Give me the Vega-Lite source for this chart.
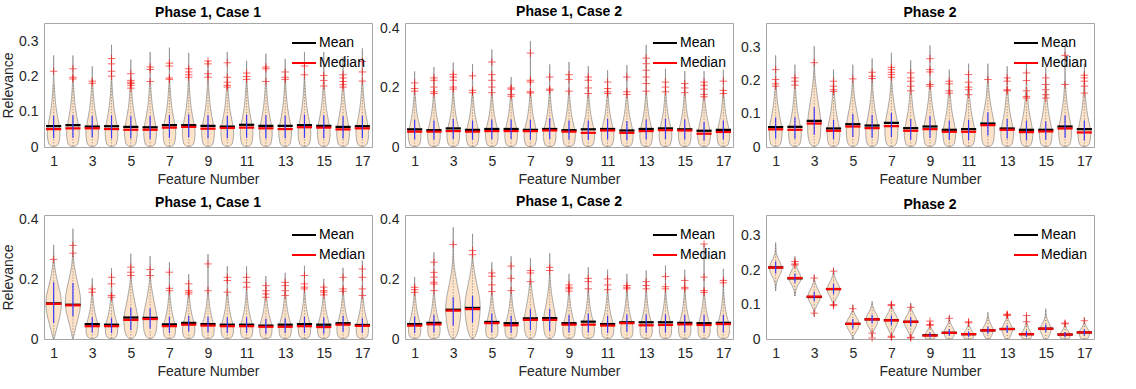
{
"$schema":"https://vega.github.io/schema/vega-lite/v6.json",
"background":"white",
"padding":{"left":1,"top":4,"right":0,"bottom":0},
"config":{
 "font":"Liberation Sans",
 "view":{"stroke":"#a6a6a6","strokeWidth":1},
 "axis":{"labelFontSize":14,"titleFontSize":14,"labelColor":"#262626","titleColor":"#262626","titleFontWeight":"normal","grid":false,"domain":false,"ticks":false,"labelPadding":7},
 "axisX":{"titlePadding":4},
 "axisY":{"labelPadding":6,"titlePadding":3},
 "title":{"fontSize":14,"fontWeight":"bold","color":"#000000","offset":3},
 "legend":{"orient":"top-right","title":null,"symbolType":"stroke","symbolSize":576,"symbolStrokeWidth":2,"labelFontSize":14,"labelColor":"#000000","offset":7,"padding":0,"rowPadding":-4,"labelOffset":2}
},
"datasets":{
"vio":[
{"p":1,"f":1,"y":[0.002,0.008,0.02,0.035,0.05,0.07,0.09,0.11,0.13,0.15,0.175,0.2,0.26],"w":[0.12,0.25,0.3,0.33,0.32,0.26,0.19,0.13,0.09,0.06,0.03,0.01,0]},
{"p":1,"f":2,"y":[0.002,0.008,0.02,0.035,0.05,0.07,0.09,0.11,0.13,0.15,0.175,0.2,0.26],"w":[0.12,0.25,0.3,0.33,0.32,0.26,0.19,0.13,0.09,0.06,0.03,0.01,0]},
{"p":1,"f":3,"y":[0.002,0.008,0.02,0.035,0.05,0.07,0.09,0.11,0.13,0.15,0.175,0.2,0.229],"w":[0.12,0.25,0.3,0.33,0.32,0.26,0.19,0.13,0.09,0.06,0.03,0.01,0]},
{"p":1,"f":4,"y":[0.002,0.008,0.02,0.035,0.05,0.07,0.09,0.11,0.13,0.15,0.175,0.2,0.29],"w":[0.12,0.25,0.3,0.33,0.32,0.26,0.19,0.13,0.09,0.06,0.03,0.01,0]},
{"p":1,"f":5,"y":[0.002,0.008,0.02,0.035,0.05,0.07,0.09,0.11,0.13,0.15,0.175,0.2,0.248],"w":[0.12,0.25,0.3,0.33,0.32,0.26,0.19,0.13,0.09,0.06,0.03,0.01,0]},
{"p":1,"f":6,"y":[0.002,0.008,0.02,0.035,0.05,0.07,0.09,0.11,0.13,0.15,0.175,0.2,0.27],"w":[0.12,0.25,0.3,0.33,0.32,0.26,0.19,0.13,0.09,0.06,0.03,0.01,0]},
{"p":1,"f":7,"y":[0.002,0.008,0.02,0.035,0.05,0.07,0.09,0.11,0.13,0.15,0.175,0.2,0.282],"w":[0.12,0.25,0.3,0.33,0.32,0.26,0.19,0.13,0.09,0.06,0.03,0.01,0]},
{"p":1,"f":8,"y":[0.002,0.008,0.02,0.035,0.05,0.07,0.09,0.11,0.13,0.15,0.175,0.2,0.267],"w":[0.12,0.25,0.3,0.33,0.32,0.26,0.19,0.13,0.09,0.06,0.03,0.01,0]},
{"p":1,"f":9,"y":[0.002,0.008,0.02,0.035,0.05,0.07,0.09,0.11,0.13,0.15,0.175,0.2,0.245],"w":[0.12,0.25,0.3,0.33,0.32,0.26,0.19,0.13,0.09,0.06,0.03,0.01,0]},
{"p":1,"f":10,"y":[0.002,0.008,0.02,0.035,0.05,0.07,0.09,0.11,0.13,0.15,0.175,0.2,0.27],"w":[0.12,0.25,0.3,0.33,0.32,0.26,0.19,0.13,0.09,0.06,0.03,0.01,0]},
{"p":1,"f":11,"y":[0.002,0.008,0.02,0.035,0.05,0.07,0.09,0.11,0.13,0.15,0.175,0.2,0.245],"w":[0.12,0.25,0.3,0.33,0.32,0.26,0.19,0.13,0.09,0.06,0.03,0.01,0]},
{"p":1,"f":12,"y":[0.002,0.008,0.02,0.035,0.05,0.07,0.09,0.11,0.13,0.15,0.175,0.2,0.265],"w":[0.12,0.25,0.3,0.33,0.32,0.26,0.19,0.13,0.09,0.06,0.03,0.01,0]},
{"p":1,"f":13,"y":[0.002,0.008,0.02,0.035,0.05,0.07,0.09,0.11,0.13,0.15,0.175,0.2,0.25],"w":[0.12,0.25,0.3,0.33,0.32,0.26,0.19,0.13,0.09,0.06,0.03,0.01,0]},
{"p":1,"f":14,"y":[0.002,0.008,0.02,0.035,0.05,0.07,0.09,0.11,0.13,0.15,0.175,0.2,0.27],"w":[0.12,0.25,0.3,0.33,0.32,0.26,0.19,0.13,0.09,0.06,0.03,0.01,0]},
{"p":1,"f":15,"y":[0.002,0.008,0.02,0.035,0.05,0.07,0.09,0.11,0.13,0.15,0.175,0.2,0.27],"w":[0.12,0.25,0.3,0.33,0.32,0.26,0.19,0.13,0.09,0.06,0.03,0.01,0]},
{"p":1,"f":16,"y":[0.002,0.008,0.02,0.035,0.05,0.07,0.09,0.11,0.13,0.15,0.175,0.2,0.255],"w":[0.12,0.25,0.3,0.33,0.32,0.26,0.19,0.13,0.09,0.06,0.03,0.01,0]},
{"p":1,"f":17,"y":[0.002,0.008,0.02,0.035,0.05,0.07,0.09,0.11,0.13,0.15,0.175,0.2,0.28],"w":[0.12,0.25,0.3,0.33,0.32,0.26,0.19,0.13,0.09,0.06,0.03,0.01,0]},
{"p":2,"f":1,"y":[0.002,0.008,0.02,0.035,0.05,0.07,0.09,0.11,0.13,0.15,0.175,0.2,0.256],"w":[0.12,0.25,0.3,0.33,0.32,0.26,0.19,0.13,0.09,0.06,0.03,0.01,0]},
{"p":2,"f":2,"y":[0.002,0.008,0.02,0.035,0.05,0.07,0.09,0.11,0.13,0.15,0.175,0.2,0.271],"w":[0.12,0.25,0.3,0.33,0.32,0.26,0.19,0.13,0.09,0.06,0.03,0.01,0]},
{"p":2,"f":3,"y":[0.002,0.008,0.02,0.035,0.05,0.07,0.09,0.11,0.13,0.15,0.175,0.2,0.286],"w":[0.12,0.25,0.3,0.33,0.32,0.26,0.19,0.13,0.09,0.06,0.03,0.01,0]},
{"p":2,"f":4,"y":[0.002,0.008,0.02,0.035,0.05,0.07,0.09,0.11,0.13,0.15,0.175,0.2,0.281],"w":[0.12,0.25,0.3,0.33,0.32,0.26,0.19,0.13,0.09,0.06,0.03,0.01,0]},
{"p":2,"f":5,"y":[0.002,0.008,0.02,0.035,0.05,0.07,0.09,0.11,0.13,0.15,0.175,0.2,0.33],"w":[0.12,0.25,0.3,0.33,0.32,0.26,0.19,0.13,0.09,0.06,0.03,0.01,0]},
{"p":2,"f":6,"y":[0.002,0.008,0.02,0.035,0.05,0.07,0.09,0.11,0.13,0.15,0.175,0.2,0.237],"w":[0.12,0.25,0.3,0.33,0.32,0.26,0.19,0.13,0.09,0.06,0.03,0.01,0]},
{"p":2,"f":7,"y":[0.002,0.008,0.02,0.035,0.05,0.07,0.09,0.11,0.13,0.15,0.175,0.2,0.359],"w":[0.12,0.25,0.3,0.33,0.32,0.26,0.19,0.13,0.09,0.06,0.03,0.01,0]},
{"p":2,"f":8,"y":[0.002,0.008,0.02,0.035,0.05,0.07,0.09,0.11,0.13,0.15,0.175,0.2,0.28],"w":[0.12,0.25,0.3,0.33,0.32,0.26,0.19,0.13,0.09,0.06,0.03,0.01,0]},
{"p":2,"f":9,"y":[0.002,0.008,0.02,0.035,0.05,0.07,0.09,0.11,0.13,0.15,0.175,0.2,0.288],"w":[0.12,0.25,0.3,0.33,0.32,0.26,0.19,0.13,0.09,0.06,0.03,0.01,0]},
{"p":2,"f":10,"y":[0.002,0.008,0.02,0.035,0.05,0.07,0.09,0.11,0.13,0.15,0.175,0.2,0.274],"w":[0.12,0.25,0.3,0.33,0.32,0.26,0.19,0.13,0.09,0.06,0.03,0.01,0]},
{"p":2,"f":11,"y":[0.002,0.008,0.02,0.035,0.05,0.07,0.09,0.11,0.13,0.15,0.175,0.2,0.26],"w":[0.12,0.25,0.3,0.33,0.32,0.26,0.19,0.13,0.09,0.06,0.03,0.01,0]},
{"p":2,"f":12,"y":[0.002,0.008,0.02,0.035,0.05,0.07,0.09,0.11,0.13,0.15,0.175,0.2,0.277],"w":[0.12,0.25,0.3,0.33,0.32,0.26,0.19,0.13,0.09,0.06,0.03,0.01,0]},
{"p":2,"f":13,"y":[0.002,0.008,0.02,0.035,0.05,0.07,0.09,0.11,0.13,0.15,0.175,0.2,0.346],"w":[0.12,0.25,0.3,0.33,0.32,0.26,0.19,0.13,0.09,0.06,0.03,0.01,0]},
{"p":2,"f":14,"y":[0.002,0.008,0.02,0.035,0.05,0.07,0.09,0.11,0.13,0.15,0.175,0.2,0.265],"w":[0.12,0.25,0.3,0.33,0.32,0.26,0.19,0.13,0.09,0.06,0.03,0.01,0]},
{"p":2,"f":15,"y":[0.002,0.008,0.02,0.035,0.05,0.07,0.09,0.11,0.13,0.15,0.175,0.2,0.257],"w":[0.12,0.25,0.3,0.33,0.32,0.26,0.19,0.13,0.09,0.06,0.03,0.01,0]},
{"p":2,"f":16,"y":[0.002,0.008,0.02,0.035,0.05,0.07,0.09,0.11,0.13,0.15,0.175,0.2,0.257],"w":[0.12,0.25,0.3,0.33,0.32,0.26,0.19,0.13,0.09,0.06,0.03,0.01,0]},
{"p":2,"f":17,"y":[0.002,0.008,0.02,0.035,0.05,0.07,0.09,0.11,0.13,0.15,0.175,0.2,0.262],"w":[0.12,0.25,0.3,0.33,0.32,0.26,0.19,0.13,0.09,0.06,0.03,0.01,0]},
{"p":3,"f":1,"y":[0.002,0.008,0.02,0.035,0.05,0.07,0.09,0.11,0.13,0.15,0.175,0.2,0.277],"w":[0.12,0.25,0.3,0.33,0.33,0.29,0.22,0.16,0.11,0.07,0.04,0.015,0]},
{"p":3,"f":2,"y":[0.002,0.008,0.02,0.035,0.05,0.07,0.09,0.11,0.13,0.15,0.175,0.2,0.249],"w":[0.12,0.25,0.3,0.33,0.32,0.26,0.19,0.13,0.09,0.06,0.03,0.01,0]},
{"p":3,"f":3,"y":[0.002,0.01,0.025,0.045,0.07,0.095,0.12,0.145,0.17,0.195,0.22,0.24,0.305],"w":[0.1,0.22,0.3,0.34,0.34,0.31,0.25,0.18,0.12,0.07,0.03,0.015,0]},
{"p":3,"f":4,"y":[0.002,0.008,0.02,0.035,0.05,0.07,0.09,0.11,0.13,0.15,0.175,0.2,0.234],"w":[0.12,0.25,0.3,0.33,0.32,0.26,0.19,0.13,0.09,0.06,0.03,0.01,0]},
{"p":3,"f":5,"y":[0.002,0.008,0.02,0.035,0.05,0.07,0.09,0.11,0.13,0.15,0.175,0.2,0.249],"w":[0.11,0.24,0.3,0.33,0.34,0.32,0.27,0.2,0.14,0.09,0.05,0.02,0]},
{"p":3,"f":6,"y":[0.002,0.008,0.02,0.035,0.05,0.07,0.09,0.11,0.13,0.15,0.175,0.2,0.268],"w":[0.12,0.25,0.3,0.33,0.33,0.29,0.22,0.16,0.11,0.07,0.04,0.015,0]},
{"p":3,"f":7,"y":[0.002,0.008,0.02,0.035,0.05,0.07,0.09,0.11,0.13,0.15,0.175,0.2,0.285],"w":[0.11,0.24,0.3,0.33,0.34,0.32,0.27,0.2,0.14,0.09,0.05,0.02,0]},
{"p":3,"f":8,"y":[0.002,0.008,0.02,0.035,0.05,0.07,0.09,0.11,0.13,0.15,0.175,0.2,0.262],"w":[0.12,0.25,0.3,0.33,0.32,0.26,0.19,0.13,0.09,0.06,0.03,0.01,0]},
{"p":3,"f":9,"y":[0.002,0.008,0.02,0.035,0.05,0.07,0.09,0.11,0.13,0.15,0.175,0.2,0.307],"w":[0.12,0.25,0.3,0.33,0.33,0.29,0.22,0.16,0.11,0.07,0.04,0.015,0]},
{"p":3,"f":10,"y":[0.002,0.008,0.02,0.035,0.05,0.07,0.09,0.11,0.13,0.15,0.175,0.2,0.234],"w":[0.12,0.25,0.3,0.33,0.32,0.26,0.19,0.13,0.09,0.06,0.03,0.01,0]},
{"p":3,"f":11,"y":[0.002,0.008,0.02,0.035,0.05,0.07,0.09,0.11,0.13,0.15,0.175,0.2,0.252],"w":[0.12,0.25,0.3,0.33,0.32,0.26,0.19,0.13,0.09,0.06,0.03,0.01,0]},
{"p":3,"f":12,"y":[0.002,0.008,0.02,0.035,0.05,0.07,0.09,0.11,0.13,0.15,0.175,0.2,0.252],"w":[0.11,0.24,0.3,0.33,0.34,0.32,0.27,0.2,0.14,0.09,0.05,0.02,0]},
{"p":3,"f":13,"y":[0.002,0.008,0.02,0.035,0.05,0.07,0.09,0.11,0.13,0.15,0.175,0.2,0.244],"w":[0.12,0.25,0.3,0.33,0.32,0.26,0.19,0.13,0.09,0.06,0.03,0.01,0]},
{"p":3,"f":14,"y":[0.002,0.008,0.02,0.035,0.05,0.07,0.09,0.11,0.13,0.15,0.175,0.2,0.255],"w":[0.12,0.25,0.3,0.33,0.32,0.26,0.19,0.13,0.09,0.06,0.03,0.01,0]},
{"p":3,"f":15,"y":[0.002,0.008,0.02,0.035,0.05,0.07,0.09,0.11,0.13,0.15,0.175,0.2,0.241],"w":[0.12,0.25,0.3,0.33,0.32,0.26,0.19,0.13,0.09,0.06,0.03,0.01,0]},
{"p":3,"f":16,"y":[0.002,0.008,0.02,0.035,0.05,0.07,0.09,0.11,0.13,0.15,0.175,0.2,0.31],"w":[0.12,0.25,0.3,0.33,0.33,0.29,0.22,0.16,0.11,0.07,0.04,0.015,0]},
{"p":3,"f":17,"y":[0.002,0.008,0.02,0.035,0.05,0.07,0.09,0.11,0.13,0.15,0.175,0.2,0.252],"w":[0.12,0.25,0.3,0.33,0.32,0.26,0.19,0.13,0.09,0.06,0.03,0.01,0]},
{"p":4,"f":1,"y":[0.002,0.02,0.045,0.07,0.095,0.12,0.145,0.17,0.195,0.22,0.245,0.27,0.316],"w":[0.03,0.1,0.2,0.3,0.38,0.41,0.37,0.28,0.19,0.11,0.05,0.02,0]},
{"p":4,"f":2,"y":[0.002,0.02,0.045,0.07,0.095,0.12,0.145,0.17,0.195,0.22,0.245,0.27,0.3,0.37],"w":[0.02,0.08,0.17,0.27,0.36,0.4,0.38,0.31,0.22,0.14,0.07,0.03,0.01,0]},
{"p":4,"f":3,"y":[0.002,0.008,0.02,0.035,0.05,0.065,0.08,0.1,0.12,0.14,0.16,0.18,0.204],"w":[0.13,0.26,0.31,0.32,0.29,0.23,0.17,0.11,0.07,0.04,0.02,0.01,0]},
{"p":4,"f":4,"y":[0.002,0.008,0.02,0.035,0.05,0.065,0.08,0.1,0.12,0.14,0.16,0.18,0.238],"w":[0.13,0.26,0.31,0.32,0.29,0.23,0.17,0.11,0.07,0.04,0.02,0.01,0]},
{"p":4,"f":5,"y":[0.002,0.01,0.025,0.045,0.065,0.085,0.105,0.13,0.155,0.18,0.2,0.22,0.286],"w":[0.1,0.23,0.31,0.35,0.36,0.33,0.27,0.19,0.12,0.06,0.03,0.01,0]},
{"p":4,"f":6,"y":[0.002,0.01,0.025,0.045,0.065,0.085,0.105,0.13,0.155,0.18,0.2,0.22,0.278],"w":[0.1,0.23,0.31,0.35,0.36,0.33,0.27,0.19,0.12,0.06,0.03,0.01,0]},
{"p":4,"f":7,"y":[0.002,0.008,0.02,0.035,0.05,0.065,0.08,0.1,0.12,0.14,0.16,0.18,0.258],"w":[0.13,0.26,0.31,0.32,0.29,0.23,0.17,0.11,0.07,0.04,0.02,0.01,0]},
{"p":4,"f":8,"y":[0.002,0.008,0.02,0.035,0.05,0.065,0.08,0.1,0.12,0.14,0.16,0.18,0.218],"w":[0.13,0.26,0.31,0.32,0.29,0.23,0.17,0.11,0.07,0.04,0.02,0.01,0]},
{"p":4,"f":9,"y":[0.002,0.008,0.02,0.035,0.05,0.065,0.08,0.1,0.12,0.14,0.16,0.18,0.285],"w":[0.13,0.26,0.31,0.32,0.29,0.23,0.17,0.11,0.07,0.04,0.02,0.01,0]},
{"p":4,"f":10,"y":[0.002,0.008,0.02,0.035,0.05,0.065,0.08,0.1,0.12,0.14,0.16,0.18,0.244],"w":[0.13,0.26,0.31,0.32,0.29,0.23,0.17,0.11,0.07,0.04,0.02,0.01,0]},
{"p":4,"f":11,"y":[0.002,0.008,0.02,0.035,0.05,0.065,0.08,0.1,0.12,0.14,0.16,0.18,0.244],"w":[0.13,0.26,0.31,0.32,0.29,0.23,0.17,0.11,0.07,0.04,0.02,0.01,0]},
{"p":4,"f":12,"y":[0.002,0.008,0.02,0.035,0.05,0.065,0.08,0.1,0.12,0.14,0.16,0.18,0.211],"w":[0.13,0.26,0.31,0.32,0.29,0.23,0.17,0.11,0.07,0.04,0.02,0.01,0]},
{"p":4,"f":13,"y":[0.002,0.008,0.02,0.035,0.05,0.065,0.08,0.1,0.12,0.14,0.16,0.18,0.222],"w":[0.13,0.26,0.31,0.32,0.29,0.23,0.17,0.11,0.07,0.04,0.02,0.01,0]},
{"p":4,"f":14,"y":[0.002,0.008,0.02,0.035,0.05,0.065,0.08,0.1,0.12,0.14,0.16,0.18,0.246],"w":[0.13,0.26,0.31,0.32,0.29,0.23,0.17,0.11,0.07,0.04,0.02,0.01,0]},
{"p":4,"f":15,"y":[0.002,0.008,0.02,0.035,0.05,0.065,0.08,0.1,0.12,0.14,0.16,0.18,0.202],"w":[0.13,0.26,0.31,0.32,0.29,0.23,0.17,0.11,0.07,0.04,0.02,0.01,0]},
{"p":4,"f":16,"y":[0.002,0.008,0.02,0.035,0.05,0.065,0.08,0.1,0.12,0.14,0.16,0.18,0.239],"w":[0.13,0.26,0.31,0.32,0.29,0.23,0.17,0.11,0.07,0.04,0.02,0.01,0]},
{"p":4,"f":17,"y":[0.002,0.008,0.02,0.035,0.05,0.065,0.08,0.1,0.12,0.14,0.16,0.18,0.263],"w":[0.13,0.26,0.31,0.32,0.29,0.23,0.17,0.11,0.07,0.04,0.02,0.01,0]},
{"p":5,"f":1,"y":[0.002,0.008,0.02,0.035,0.05,0.065,0.08,0.1,0.12,0.14,0.16,0.18,0.207],"w":[0.13,0.26,0.31,0.32,0.29,0.23,0.17,0.11,0.07,0.04,0.02,0.01,0]},
{"p":5,"f":2,"y":[0.002,0.008,0.02,0.035,0.05,0.065,0.08,0.1,0.12,0.14,0.16,0.18,0.29],"w":[0.13,0.26,0.31,0.32,0.29,0.23,0.17,0.11,0.07,0.04,0.02,0.01,0]},
{"p":5,"f":3,"y":[0.002,0.015,0.035,0.06,0.085,0.11,0.135,0.16,0.185,0.21,0.235,0.26,0.29,0.374],"w":[0.08,0.2,0.29,0.35,0.39,0.39,0.35,0.28,0.2,0.13,0.07,0.03,0.01,0]},
{"p":5,"f":4,"y":[0.002,0.015,0.035,0.06,0.085,0.11,0.135,0.16,0.185,0.21,0.235,0.26,0.29,0.352],"w":[0.07,0.18,0.27,0.34,0.38,0.4,0.37,0.3,0.22,0.14,0.08,0.03,0.01,0]},
{"p":5,"f":5,"y":[0.002,0.008,0.02,0.035,0.05,0.065,0.08,0.1,0.12,0.14,0.16,0.18,0.257],"w":[0.13,0.26,0.31,0.32,0.29,0.23,0.17,0.11,0.07,0.04,0.02,0.01,0]},
{"p":5,"f":6,"y":[0.002,0.008,0.02,0.035,0.05,0.065,0.08,0.1,0.12,0.14,0.16,0.18,0.277],"w":[0.13,0.26,0.31,0.32,0.29,0.23,0.17,0.11,0.07,0.04,0.02,0.01,0]},
{"p":5,"f":7,"y":[0.002,0.01,0.025,0.045,0.065,0.085,0.105,0.13,0.155,0.18,0.2,0.22,0.27],"w":[0.1,0.22,0.29,0.32,0.32,0.28,0.22,0.15,0.09,0.05,0.025,0.01,0]},
{"p":5,"f":8,"y":[0.002,0.01,0.025,0.045,0.065,0.085,0.105,0.13,0.155,0.18,0.2,0.22,0.287],"w":[0.1,0.22,0.29,0.32,0.32,0.28,0.22,0.15,0.09,0.05,0.025,0.01,0]},
{"p":5,"f":9,"y":[0.002,0.008,0.02,0.035,0.05,0.065,0.08,0.1,0.12,0.14,0.16,0.18,0.218],"w":[0.13,0.26,0.31,0.32,0.29,0.23,0.17,0.11,0.07,0.04,0.02,0.01,0]},
{"p":5,"f":10,"y":[0.002,0.008,0.02,0.035,0.05,0.065,0.08,0.1,0.12,0.14,0.16,0.18,0.24],"w":[0.13,0.26,0.31,0.32,0.29,0.23,0.17,0.11,0.07,0.04,0.02,0.01,0]},
{"p":5,"f":11,"y":[0.002,0.008,0.02,0.035,0.05,0.065,0.08,0.1,0.12,0.14,0.16,0.18,0.232],"w":[0.13,0.26,0.31,0.32,0.29,0.23,0.17,0.11,0.07,0.04,0.02,0.01,0]},
{"p":5,"f":12,"y":[0.002,0.008,0.02,0.035,0.05,0.065,0.08,0.1,0.12,0.14,0.16,0.18,0.218],"w":[0.13,0.26,0.31,0.32,0.29,0.23,0.17,0.11,0.07,0.04,0.02,0.01,0]},
{"p":5,"f":13,"y":[0.002,0.008,0.02,0.035,0.05,0.065,0.08,0.1,0.12,0.14,0.16,0.18,0.229],"w":[0.13,0.26,0.31,0.32,0.29,0.23,0.17,0.11,0.07,0.04,0.02,0.01,0]},
{"p":5,"f":14,"y":[0.002,0.008,0.02,0.035,0.05,0.065,0.08,0.1,0.12,0.14,0.16,0.18,0.246],"w":[0.13,0.26,0.31,0.32,0.29,0.23,0.17,0.11,0.07,0.04,0.02,0.01,0]},
{"p":5,"f":15,"y":[0.002,0.008,0.02,0.035,0.05,0.065,0.08,0.1,0.12,0.14,0.16,0.18,0.232],"w":[0.13,0.26,0.31,0.32,0.29,0.23,0.17,0.11,0.07,0.04,0.02,0.01,0]},
{"p":5,"f":16,"y":[0.002,0.008,0.02,0.035,0.05,0.065,0.08,0.1,0.12,0.14,0.16,0.18,0.318],"w":[0.13,0.26,0.31,0.32,0.29,0.23,0.17,0.11,0.07,0.04,0.02,0.01,0]},
{"p":5,"f":17,"y":[0.002,0.008,0.02,0.035,0.05,0.065,0.08,0.1,0.12,0.14,0.16,0.18,0.235],"w":[0.13,0.26,0.31,0.32,0.29,0.23,0.17,0.11,0.07,0.04,0.02,0.01,0]},
{"p":6,"f":1,"y":[0.14,0.16,0.175,0.19,0.205,0.22,0.235,0.25,0.28],"w":[0,0.03,0.12,0.26,0.33,0.26,0.12,0.03,0]},
{"p":6,"f":2,"y":[0.125,0.14,0.155,0.167,0.178,0.19,0.205,0.22,0.24],"w":[0,0.04,0.14,0.28,0.32,0.25,0.12,0.03,0]},
{"p":6,"f":3,"y":[0.065,0.085,0.1,0.112,0.124,0.136,0.15,0.165,0.185],"w":[0,0.04,0.16,0.28,0.33,0.27,0.14,0.04,0]},
{"p":6,"f":4,"y":[0.09,0.105,0.12,0.133,0.145,0.157,0.17,0.185,0.205],"w":[0,0.04,0.16,0.29,0.33,0.27,0.14,0.04,0]},
{"p":6,"f":5,"y":[0.0,0.01,0.022,0.034,0.045,0.057,0.07,0.082,0.1],"w":[0.01,0.05,0.18,0.3,0.33,0.26,0.12,0.03,0]},
{"p":6,"f":6,"y":[0.005,0.02,0.033,0.045,0.057,0.069,0.082,0.095,0.11],"w":[0,0.05,0.16,0.28,0.32,0.26,0.13,0.04,0]},
{"p":6,"f":7,"y":[0.0,0.015,0.03,0.042,0.054,0.066,0.08,0.093,0.11],"w":[0.01,0.06,0.18,0.29,0.33,0.27,0.13,0.04,0]},
{"p":6,"f":8,"y":[0.0,0.012,0.026,0.038,0.05,0.062,0.075,0.088,0.105],"w":[0.01,0.06,0.18,0.29,0.33,0.27,0.13,0.04,0]},
{"p":6,"f":9,"y":[0.0,0.006,0.012,0.02,0.03,0.038,0.048],"w":[0.22,0.27,0.27,0.19,0.08,0.02,0]},
{"p":6,"f":10,"y":[0.0,0.008,0.016,0.025,0.035,0.045,0.055,0.068],"w":[0.14,0.23,0.28,0.25,0.16,0.07,0.02,0]},
{"p":6,"f":11,"y":[0.0,0.007,0.014,0.022,0.032,0.042,0.052],"w":[0.2,0.27,0.28,0.2,0.09,0.02,0]},
{"p":6,"f":12,"y":[0.0,0.01,0.02,0.03,0.042,0.055,0.065,0.078],"w":[0.1,0.2,0.27,0.26,0.16,0.06,0.02,0]},
{"p":6,"f":13,"y":[0.0,0.012,0.022,0.032,0.044,0.056,0.068,0.078],"w":[0.1,0.2,0.27,0.27,0.17,0.07,0.02,0]},
{"p":6,"f":14,"y":[0.0,0.007,0.014,0.022,0.032,0.045,0.058,0.072],"w":[0.2,0.27,0.28,0.2,0.1,0.04,0.01,0]},
{"p":6,"f":15,"y":[0.0,0.012,0.024,0.034,0.046,0.058,0.07,0.088],"w":[0.1,0.2,0.28,0.27,0.17,0.07,0.02,0]},
{"p":6,"f":16,"y":[0.0,0.006,0.013,0.02,0.03,0.04,0.052],"w":[0.2,0.26,0.27,0.2,0.08,0.02,0]},
{"p":6,"f":17,"y":[0.0,0.008,0.016,0.024,0.034,0.045,0.062],"w":[0.16,0.24,0.28,0.24,0.12,0.03,0]}
],
"st":[
{"p":1,"f":1,"Mean":0.059,"Median":0.051,"q1":0.025,"q3":0.089,"wl":0.002,"wh":0.18},
{"p":1,"f":2,"Mean":0.062,"Median":0.053,"q1":0.026,"q3":0.09,"wl":0.002,"wh":0.18},
{"p":1,"f":3,"Mean":0.058,"Median":0.053,"q1":0.027,"q3":0.088,"wl":0.002,"wh":0.17},
{"p":1,"f":4,"Mean":0.059,"Median":0.051,"q1":0.024,"q3":0.09,"wl":0.002,"wh":0.19},
{"p":1,"f":5,"Mean":0.057,"Median":0.049,"q1":0.024,"q3":0.087,"wl":0.002,"wh":0.16},
{"p":1,"f":6,"Mean":0.056,"Median":0.049,"q1":0.023,"q3":0.087,"wl":0.002,"wh":0.175},
{"p":1,"f":7,"Mean":0.062,"Median":0.055,"q1":0.026,"q3":0.091,"wl":0.002,"wh":0.185},
{"p":1,"f":8,"Mean":0.062,"Median":0.057,"q1":0.027,"q3":0.093,"wl":0.002,"wh":0.19},
{"p":1,"f":9,"Mean":0.06,"Median":0.052,"q1":0.025,"q3":0.09,"wl":0.002,"wh":0.19},
{"p":1,"f":10,"Mean":0.058,"Median":0.054,"q1":0.025,"q3":0.088,"wl":0.002,"wh":0.165},
{"p":1,"f":11,"Mean":0.063,"Median":0.055,"q1":0.026,"q3":0.092,"wl":0.002,"wh":0.185},
{"p":1,"f":12,"Mean":0.06,"Median":0.053,"q1":0.024,"q3":0.09,"wl":0.002,"wh":0.18},
{"p":1,"f":13,"Mean":0.06,"Median":0.051,"q1":0.025,"q3":0.089,"wl":0.002,"wh":0.185},
{"p":1,"f":14,"Mean":0.062,"Median":0.056,"q1":0.026,"q3":0.092,"wl":0.002,"wh":0.195},
{"p":1,"f":15,"Mean":0.06,"Median":0.055,"q1":0.025,"q3":0.09,"wl":0.002,"wh":0.17},
{"p":1,"f":16,"Mean":0.057,"Median":0.05,"q1":0.024,"q3":0.087,"wl":0.002,"wh":0.165},
{"p":1,"f":17,"Mean":0.059,"Median":0.053,"q1":0.025,"q3":0.089,"wl":0.002,"wh":0.18},
{"p":2,"f":1,"Mean":0.06,"Median":0.052,"q1":0.026,"q3":0.092,"wl":0.002,"wh":0.18},
{"p":2,"f":2,"Mean":0.057,"Median":0.052,"q1":0.025,"q3":0.09,"wl":0.002,"wh":0.175},
{"p":2,"f":3,"Mean":0.063,"Median":0.054,"q1":0.027,"q3":0.095,"wl":0.002,"wh":0.19},
{"p":2,"f":4,"Mean":0.058,"Median":0.052,"q1":0.025,"q3":0.09,"wl":0.002,"wh":0.18},
{"p":2,"f":5,"Mean":0.061,"Median":0.054,"q1":0.026,"q3":0.093,"wl":0.002,"wh":0.18},
{"p":2,"f":6,"Mean":0.061,"Median":0.054,"q1":0.027,"q3":0.093,"wl":0.002,"wh":0.165},
{"p":2,"f":7,"Mean":0.058,"Median":0.054,"q1":0.025,"q3":0.092,"wl":0.002,"wh":0.178},
{"p":2,"f":8,"Mean":0.061,"Median":0.056,"q1":0.027,"q3":0.097,"wl":0.002,"wh":0.19},
{"p":2,"f":9,"Mean":0.057,"Median":0.052,"q1":0.025,"q3":0.09,"wl":0.002,"wh":0.18},
{"p":2,"f":10,"Mean":0.06,"Median":0.048,"q1":0.024,"q3":0.09,"wl":0.002,"wh":0.175},
{"p":2,"f":11,"Mean":0.061,"Median":0.056,"q1":0.026,"q3":0.095,"wl":0.002,"wh":0.178},
{"p":2,"f":12,"Mean":0.056,"Median":0.048,"q1":0.023,"q3":0.088,"wl":0.002,"wh":0.172},
{"p":2,"f":13,"Mean":0.061,"Median":0.054,"q1":0.026,"q3":0.093,"wl":0.002,"wh":0.185},
{"p":2,"f":14,"Mean":0.063,"Median":0.057,"q1":0.027,"q3":0.096,"wl":0.002,"wh":0.18},
{"p":2,"f":15,"Mean":0.06,"Median":0.056,"q1":0.026,"q3":0.093,"wl":0.002,"wh":0.18},
{"p":2,"f":16,"Mean":0.055,"Median":0.045,"q1":0.022,"q3":0.085,"wl":0.002,"wh":0.165},
{"p":2,"f":17,"Mean":0.058,"Median":0.051,"q1":0.025,"q3":0.09,"wl":0.002,"wh":0.175},
{"p":3,"f":1,"Mean":0.06,"Median":0.053,"q1":0.026,"q3":0.089,"wl":0.002,"wh":0.18},
{"p":3,"f":2,"Mean":0.061,"Median":0.052,"q1":0.025,"q3":0.09,"wl":0.002,"wh":0.18},
{"p":3,"f":3,"Mean":0.079,"Median":0.071,"q1":0.037,"q3":0.12,"wl":0.002,"wh":0.24},
{"p":3,"f":4,"Mean":0.056,"Median":0.049,"q1":0.024,"q3":0.082,"wl":0.002,"wh":0.16},
{"p":3,"f":5,"Mean":0.069,"Median":0.062,"q1":0.03,"q3":0.1,"wl":0.002,"wh":0.2},
{"p":3,"f":6,"Mean":0.065,"Median":0.057,"q1":0.028,"q3":0.097,"wl":0.002,"wh":0.2},
{"p":3,"f":7,"Mean":0.073,"Median":0.063,"q1":0.03,"q3":0.103,"wl":0.002,"wh":0.205},
{"p":3,"f":8,"Mean":0.057,"Median":0.049,"q1":0.022,"q3":0.085,"wl":0.002,"wh":0.165},
{"p":3,"f":9,"Mean":0.062,"Median":0.054,"q1":0.027,"q3":0.093,"wl":0.002,"wh":0.18},
{"p":3,"f":10,"Mean":0.052,"Median":0.046,"q1":0.022,"q3":0.08,"wl":0.002,"wh":0.155},
{"p":3,"f":11,"Mean":0.054,"Median":0.046,"q1":0.02,"q3":0.082,"wl":0.002,"wh":0.15},
{"p":3,"f":12,"Mean":0.071,"Median":0.066,"q1":0.035,"q3":0.105,"wl":0.002,"wh":0.2},
{"p":3,"f":13,"Mean":0.056,"Median":0.052,"q1":0.026,"q3":0.085,"wl":0.002,"wh":0.165},
{"p":3,"f":14,"Mean":0.052,"Median":0.045,"q1":0.02,"q3":0.08,"wl":0.002,"wh":0.145},
{"p":3,"f":15,"Mean":0.052,"Median":0.047,"q1":0.022,"q3":0.078,"wl":0.002,"wh":0.145},
{"p":3,"f":16,"Mean":0.062,"Median":0.056,"q1":0.028,"q3":0.095,"wl":0.002,"wh":0.18},
{"p":3,"f":17,"Mean":0.054,"Median":0.044,"q1":0.02,"q3":0.08,"wl":0.002,"wh":0.155},
{"p":4,"f":1,"Mean":0.12,"Median":0.118,"q1":0.054,"q3":0.19,"wl":0.002,"wh":0.26},
{"p":4,"f":2,"Mean":0.115,"Median":0.113,"q1":0.076,"q3":0.188,"wl":0.002,"wh":0.28},
{"p":4,"f":3,"Mean":0.05,"Median":0.043,"q1":0.022,"q3":0.073,"wl":0.002,"wh":0.15},
{"p":4,"f":4,"Mean":0.048,"Median":0.043,"q1":0.02,"q3":0.07,"wl":0.002,"wh":0.135},
{"p":4,"f":5,"Mean":0.072,"Median":0.064,"q1":0.03,"q3":0.105,"wl":0.002,"wh":0.2},
{"p":4,"f":6,"Mean":0.071,"Median":0.067,"q1":0.035,"q3":0.103,"wl":0.002,"wh":0.2},
{"p":4,"f":7,"Mean":0.049,"Median":0.043,"q1":0.02,"q3":0.075,"wl":0.002,"wh":0.155},
{"p":4,"f":8,"Mean":0.054,"Median":0.048,"q1":0.025,"q3":0.078,"wl":0.002,"wh":0.145},
{"p":4,"f":9,"Mean":0.05,"Median":0.045,"q1":0.022,"q3":0.075,"wl":0.002,"wh":0.155},
{"p":4,"f":10,"Mean":0.048,"Median":0.043,"q1":0.02,"q3":0.073,"wl":0.002,"wh":0.15},
{"p":4,"f":11,"Mean":0.048,"Median":0.043,"q1":0.02,"q3":0.073,"wl":0.002,"wh":0.165},
{"p":4,"f":12,"Mean":0.045,"Median":0.041,"q1":0.018,"q3":0.068,"wl":0.002,"wh":0.135},
{"p":4,"f":13,"Mean":0.048,"Median":0.041,"q1":0.02,"q3":0.07,"wl":0.002,"wh":0.14},
{"p":4,"f":14,"Mean":0.05,"Median":0.043,"q1":0.02,"q3":0.075,"wl":0.002,"wh":0.16},
{"p":4,"f":15,"Mean":0.048,"Median":0.04,"q1":0.018,"q3":0.072,"wl":0.002,"wh":0.14},
{"p":4,"f":16,"Mean":0.053,"Median":0.048,"q1":0.024,"q3":0.078,"wl":0.002,"wh":0.155},
{"p":4,"f":17,"Mean":0.047,"Median":0.044,"q1":0.02,"q3":0.07,"wl":0.002,"wh":0.14},
{"p":5,"f":1,"Mean":0.05,"Median":0.045,"q1":0.02,"q3":0.075,"wl":0.002,"wh":0.15},
{"p":5,"f":2,"Mean":0.054,"Median":0.049,"q1":0.022,"q3":0.08,"wl":0.002,"wh":0.155},
{"p":5,"f":3,"Mean":0.098,"Median":0.095,"q1":0.045,"q3":0.14,"wl":0.002,"wh":0.3},
{"p":5,"f":4,"Mean":0.104,"Median":0.1,"q1":0.055,"q3":0.145,"wl":0.002,"wh":0.27},
{"p":5,"f":5,"Mean":0.057,"Median":0.053,"q1":0.022,"q3":0.085,"wl":0.002,"wh":0.155},
{"p":5,"f":6,"Mean":0.053,"Median":0.046,"q1":0.02,"q3":0.078,"wl":0.002,"wh":0.155},
{"p":5,"f":7,"Mean":0.069,"Median":0.064,"q1":0.03,"q3":0.1,"wl":0.002,"wh":0.185},
{"p":5,"f":8,"Mean":0.07,"Median":0.064,"q1":0.027,"q3":0.1,"wl":0.002,"wh":0.22},
{"p":5,"f":9,"Mean":0.053,"Median":0.048,"q1":0.022,"q3":0.08,"wl":0.002,"wh":0.15},
{"p":5,"f":10,"Mean":0.058,"Median":0.048,"q1":0.022,"q3":0.085,"wl":0.002,"wh":0.16},
{"p":5,"f":11,"Mean":0.05,"Median":0.045,"q1":0.02,"q3":0.078,"wl":0.002,"wh":0.16},
{"p":5,"f":12,"Mean":0.056,"Median":0.053,"q1":0.024,"q3":0.082,"wl":0.002,"wh":0.16},
{"p":5,"f":13,"Mean":0.056,"Median":0.046,"q1":0.021,"q3":0.082,"wl":0.002,"wh":0.16},
{"p":5,"f":14,"Mean":0.056,"Median":0.047,"q1":0.021,"q3":0.082,"wl":0.002,"wh":0.16},
{"p":5,"f":15,"Mean":0.054,"Median":0.049,"q1":0.022,"q3":0.08,"wl":0.002,"wh":0.16},
{"p":5,"f":16,"Mean":0.053,"Median":0.047,"q1":0.021,"q3":0.08,"wl":0.002,"wh":0.15},
{"p":5,"f":17,"Mean":0.054,"Median":0.05,"q1":0.022,"q3":0.08,"wl":0.002,"wh":0.18},
{"p":6,"f":1,"Mean":0.208,"Median":0.207,"q1":0.19,"q3":0.225,"wl":0.14,"wh":0.28},
{"p":6,"f":2,"Mean":0.176,"Median":0.177,"q1":0.163,"q3":0.19,"wl":0.125,"wh":0.21},
{"p":6,"f":3,"Mean":0.122,"Median":0.123,"q1":0.11,"q3":0.137,"wl":0.08,"wh":0.17},
{"p":6,"f":4,"Mean":0.145,"Median":0.145,"q1":0.13,"q3":0.16,"wl":0.1,"wh":0.19},
{"p":6,"f":5,"Mean":0.044,"Median":0.044,"q1":0.03,"q3":0.058,"wl":0.0,"wh":0.085},
{"p":6,"f":6,"Mean":0.057,"Median":0.057,"q1":0.045,"q3":0.07,"wl":0.02,"wh":0.1},
{"p":6,"f":7,"Mean":0.055,"Median":0.054,"q1":0.04,"q3":0.068,"wl":0.01,"wh":0.095},
{"p":6,"f":8,"Mean":0.05,"Median":0.05,"q1":0.037,"q3":0.063,"wl":0.01,"wh":0.09},
{"p":6,"f":9,"Mean":0.011,"Median":0.01,"q1":0.005,"q3":0.018,"wl":0.0,"wh":0.035},
{"p":6,"f":10,"Mean":0.018,"Median":0.018,"q1":0.01,"q3":0.028,"wl":0.0,"wh":0.055},
{"p":6,"f":11,"Mean":0.014,"Median":0.014,"q1":0.006,"q3":0.022,"wl":0.0,"wh":0.045},
{"p":6,"f":12,"Mean":0.025,"Median":0.025,"q1":0.015,"q3":0.035,"wl":0.0,"wh":0.07},
{"p":6,"f":13,"Mean":0.029,"Median":0.029,"q1":0.018,"q3":0.04,"wl":0.0,"wh":0.065},
{"p":6,"f":14,"Mean":0.014,"Median":0.014,"q1":0.006,"q3":0.024,"wl":0.0,"wh":0.045},
{"p":6,"f":15,"Mean":0.03,"Median":0.03,"q1":0.02,"q3":0.042,"wl":0.0,"wh":0.08},
{"p":6,"f":16,"Mean":0.013,"Median":0.013,"q1":0.005,"q3":0.02,"wl":0.0,"wh":0.04},
{"p":6,"f":17,"Mean":0.019,"Median":0.019,"q1":0.01,"q3":0.028,"wl":0.0,"wh":0.05}
],
"out":[
{"p":1,"f":1,"v":[0.215]},
{"p":1,"f":2,"v":[0.222,0.198,0.193]},
{"p":1,"f":3,"v":[0.187,0.181]},
{"p":1,"f":4,"v":[0.251,0.236,0.215,0.201]},
{"p":1,"f":5,"v":[0.208,0.189,0.184,0.18,0.175,0.167]},
{"p":1,"f":6,"v":[0.227,0.22,0.186]},
{"p":1,"f":7,"v":[0.238,0.23,0.196,0.192]},
{"p":1,"f":8,"v":[0.222,0.213,0.205,0.198]},
{"p":1,"f":9,"v":[0.244,0.236,0.208,0.198]},
{"p":1,"f":10,"v":[0.239,0.198,0.184,0.175,0.17]},
{"p":1,"f":11,"v":[0.21,0.2,0.192]},
{"p":1,"f":12,"v":[0.227,0.222,0.186]},
{"p":1,"f":13,"v":[0.213,0.198,0.192]},
{"p":1,"f":14,"v":[0.23,0.205]},
{"p":1,"f":15,"v":[0.203,0.189,0.173]},
{"p":1,"f":16,"v":[0.205,0.196,0.186,0.177,0.17]},
{"p":1,"f":17,"v":[0.243,0.213,0.187]},
{"p":2,"f":1,"v":[0.217,0.198,0.189]},
{"p":2,"f":2,"v":[0.234,0.226,0.203,0.187,0.181]},
{"p":2,"f":3,"v":[0.246,0.237,0.226,0.203,0.196]},
{"p":2,"f":4,"v":[0.241,0.192,0.184]},
{"p":2,"f":5,"v":[0.288,0.245,0.226,0.203,0.184]},
{"p":2,"f":6,"v":[0.2,0.196,0.178,0.172]},
{"p":2,"f":7,"v":[0.318,0.226,0.22,0.187,0.183]},
{"p":2,"f":8,"v":[0.237,0.196,0.192]},
{"p":2,"f":9,"v":[0.245,0.229,0.189]},
{"p":2,"f":10,"v":[0.237,0.226,0.2,0.181]},
{"p":2,"f":11,"v":[0.22,0.198,0.187,0.181]},
{"p":2,"f":12,"v":[0.237,0.187,0.178]},
{"p":2,"f":13,"v":[0.301,0.282,0.26,0.237,0.215,0.189]},
{"p":2,"f":14,"v":[0.22,0.203,0.187]},
{"p":2,"f":15,"v":[0.215,0.2,0.184]},
{"p":2,"f":16,"v":[0.22,0.209,0.196,0.178,0.17]},
{"p":2,"f":17,"v":[0.223,0.192,0.181]},
{"p":3,"f":1,"v":[0.234,0.204,0.191,0.184]},
{"p":3,"f":2,"v":[0.209,0.199,0.187]},
{"p":3,"f":3,"v":[0.255]},
{"p":3,"f":4,"v":[0.199,0.184,0.173,0.168]},
{"p":3,"f":5,"v":[0.206]},
{"p":3,"f":6,"v":[0.226,0.214,0.207]},
{"p":3,"f":7,"v":[0.241,0.234,0.226,0.219,0.211]},
{"p":3,"f":8,"v":[0.224,0.209,0.199,0.184,0.17]},
{"p":3,"f":9,"v":[0.267,0.234,0.227,0.189,0.184]},
{"p":3,"f":10,"v":[0.199,0.191,0.17,0.163]},
{"p":3,"f":11,"v":[0.219,0.196,0.181,0.173,0.158]},
{"p":3,"f":12,"v":[0.204]},
{"p":3,"f":13,"v":[0.209,0.199,0.173,0.17]},
{"p":3,"f":14,"v":[0.224,0.201,0.17,0.153,0.148]},
{"p":3,"f":15,"v":[0.209,0.189,0.173,0.158,0.148]},
{"p":3,"f":16,"v":[0.277,0.189]},
{"p":3,"f":17,"v":[0.217,0.209,0.199,0.184,0.163]},
{"p":4,"f":1,"v":[0.267]},
{"p":4,"f":2,"v":[0.314,0.288]},
{"p":4,"f":3,"v":[0.168,0.157]},
{"p":4,"f":4,"v":[0.207,0.185,0.146,0.14]},
{"p":4,"f":5,"v":[0.241,0.224,0.213]},
{"p":4,"f":6,"v":[0.233,0.213]},
{"p":4,"f":7,"v":[0.224,0.17,0.162]},
{"p":4,"f":8,"v":[0.185,0.162,0.157,0.151]},
{"p":4,"f":9,"v":[0.252,0.162]},
{"p":4,"f":10,"v":[0.207,0.196,0.157]},
{"p":4,"f":11,"v":[0.207,0.19,0.174]},
{"p":4,"f":12,"v":[0.179,0.162,0.151,0.14]},
{"p":4,"f":13,"v":[0.19,0.179,0.162,0.146]},
{"p":4,"f":14,"v":[0.213,0.185,0.174,0.168]},
{"p":4,"f":15,"v":[0.174,0.162,0.157,0.148]},
{"p":4,"f":16,"v":[0.207,0.168,0.16]},
{"p":4,"f":17,"v":[0.235,0.207,0.168,0.146]},
{"p":5,"f":1,"v":[0.173,0.165,0.156]},
{"p":5,"f":2,"v":[0.257,0.223,0.207,0.19,0.184,0.162]},
{"p":5,"f":3,"v":[0.316]},
{"p":5,"f":4,"v":[0.296,0.282]},
{"p":5,"f":5,"v":[0.221,0.21,0.181,0.159]},
{"p":5,"f":6,"v":[0.244,0.203,0.162]},
{"p":5,"f":7,"v":[0.229,0.221,0.192]},
{"p":5,"f":8,"v":[0.24,0.229]},
{"p":5,"f":9,"v":[0.181,0.173,0.168,0.16]},
{"p":5,"f":10,"v":[0.203,0.192,0.168]},
{"p":5,"f":11,"v":[0.201,0.181,0.165]},
{"p":5,"f":12,"v":[0.179,0.173,0.168]},
{"p":5,"f":13,"v":[0.192,0.179,0.168]},
{"p":5,"f":14,"v":[0.209,0.175,0.168]},
{"p":5,"f":15,"v":[0.196,0.173,0.168]},
{"p":5,"f":16,"v":[0.318,0.207,0.162,0.156]},
{"p":5,"f":17,"v":[0.196,0.188]},
{"p":6,"f":2,"v":[0.225,0.218,0.215]},
{"p":6,"f":3,"v":[0.177,0.075]},
{"p":6,"f":4,"v":[0.197,0.1,0.097]},
{"p":6,"f":5,"v":[0.088]},
{"p":6,"f":6,"v":[0.017,0.003]},
{"p":6,"f":7,"v":[0.1,0.097,0.008,0.005]},
{"p":6,"f":8,"v":[0.092,0.005,0.003]},
{"p":6,"f":9,"v":[0.052,0.042,0.04]},
{"p":6,"f":10,"v":[0.06]},
{"p":6,"f":11,"v":[0.05,0.047]},
{"p":6,"f":13,"v":[0.068,0.072,0.07]},
{"p":6,"f":14,"v":[0.068,0.05]},
{"p":6,"f":16,"v":[0.046,0.044]},
{"p":6,"f":17,"v":[0.053]}
]
},
"concat":[
{"width":328,"height":124,"title":"Phase 1, Case 1","layer":[
{"data":{"name":"vio"},"transform":[{"filter":"datum.p==1"},{"flatten":["y","w"]},{"calculate":"datum.f-datum.w","as":"lo"},{"calculate":"datum.f+datum.w","as":"hi"}],
 "mark":{"type":"area","orient":"horizontal","fill":"#fde3c9","stroke":"#8a8a8a","strokeWidth":0.7},
 "encoding":{"y":{"field":"y","type":"quantitative","scale":{"domain":[0,0.352],"nice":false,"zero":false},"axis":{"values":[0,0.1,0.2,0.3],"format":"~g","title":"Relevance"}},
  "x":{"field":"lo","type":"quantitative","scale":{"domain":[0.5,17.5],"nice":false,"zero":false},"axis":{"values":[1,3,5,7,9,11,13,15,17],"format":"d","title":"Feature Number"}},
  "x2":{"field":"hi"},"detail":{"field":"f","type":"nominal"}}},
{"data":{"name":"st"},"transform":[{"filter":"datum.p==1"}],"mark":{"type":"rule","strokeDash":[1,2],"color":"#666666","strokeWidth":0.8},
 "encoding":{"x":{"field":"f","type":"quantitative"},"y":{"field":"wl","type":"quantitative"},"y2":{"field":"wh"}}},
{"data":{"name":"st"},"transform":[{"filter":"datum.p==1"},{"fold":["Mean","Median"],"as":["stat","val"]}],"mark":{"type":"tick","orient":"horizontal","size":13,"thickness":0.01,"filled":false,"strokeWidth":2.2,"opacity":1},
 "encoding":{"x":{"field":"f","type":"quantitative"},"y":{"field":"val","type":"quantitative"},"color":{"field":"stat","type":"nominal","scale":{"domain":["Mean","Median"],"range":["#000000","#ff0000"]}}}},
{"data":{"name":"st"},"transform":[{"filter":"datum.p==1"}],"mark":{"type":"rule","color":"#3b3bff","strokeWidth":1.2},
 "encoding":{"x":{"field":"f","type":"quantitative"},"y":{"field":"q1","type":"quantitative"},"y2":{"field":"q3"}}},
{"data":{"name":"out"},"transform":[{"filter":"datum.p==1"},{"flatten":["v"]}],"mark":{"type":"point","shape":"M-1,0H1M0,-1V1","size":56,"filled":false,"stroke":"#ff0000","strokeWidth":1,"opacity":0.6},
 "encoding":{"x":{"field":"f","type":"quantitative"},"y":{"field":"v","type":"quantitative"}}}
]},
{"width":328,"height":124,"title":"Phase 1, Case 2","layer":[
{"data":{"name":"vio"},"transform":[{"filter":"datum.p==2"},{"flatten":["y","w"]},{"calculate":"datum.f-datum.w","as":"lo"},{"calculate":"datum.f+datum.w","as":"hi"}],
 "mark":{"type":"area","orient":"horizontal","fill":"#fde3c9","stroke":"#8a8a8a","strokeWidth":0.7},
 "encoding":{"y":{"field":"y","type":"quantitative","scale":{"domain":[0,0.42],"nice":false,"zero":false},"axis":{"values":[0,0.2,0.4],"format":"~g","title":null}},
  "x":{"field":"lo","type":"quantitative","scale":{"domain":[0.5,17.5],"nice":false,"zero":false},"axis":{"values":[1,3,5,7,9,11,13,15,17],"format":"d","title":"Feature Number"}},
  "x2":{"field":"hi"},"detail":{"field":"f","type":"nominal"}}},
{"data":{"name":"st"},"transform":[{"filter":"datum.p==2"}],"mark":{"type":"rule","strokeDash":[1,2],"color":"#666666","strokeWidth":0.8},
 "encoding":{"x":{"field":"f","type":"quantitative"},"y":{"field":"wl","type":"quantitative"},"y2":{"field":"wh"}}},
{"data":{"name":"st"},"transform":[{"filter":"datum.p==2"},{"fold":["Mean","Median"],"as":["stat","val"]}],"mark":{"type":"tick","orient":"horizontal","size":13,"thickness":0.01,"filled":false,"strokeWidth":2.2,"opacity":1},
 "encoding":{"x":{"field":"f","type":"quantitative"},"y":{"field":"val","type":"quantitative"},"color":{"field":"stat","type":"nominal","scale":{"domain":["Mean","Median"],"range":["#000000","#ff0000"]}}}},
{"data":{"name":"st"},"transform":[{"filter":"datum.p==2"}],"mark":{"type":"rule","color":"#3b3bff","strokeWidth":1.2},
 "encoding":{"x":{"field":"f","type":"quantitative"},"y":{"field":"q1","type":"quantitative"},"y2":{"field":"q3"}}},
{"data":{"name":"out"},"transform":[{"filter":"datum.p==2"},{"flatten":["v"]}],"mark":{"type":"point","shape":"M-1,0H1M0,-1V1","size":56,"filled":false,"stroke":"#ff0000","strokeWidth":1,"opacity":0.6},
 "encoding":{"x":{"field":"f","type":"quantitative"},"y":{"field":"v","type":"quantitative"}}}
]},
{"width":328,"height":124,"title":"Phase 2","layer":[
{"data":{"name":"vio"},"transform":[{"filter":"datum.p==3"},{"flatten":["y","w"]},{"calculate":"datum.f-datum.w","as":"lo"},{"calculate":"datum.f+datum.w","as":"hi"}],
 "mark":{"type":"area","orient":"horizontal","fill":"#fde3c9","stroke":"#8a8a8a","strokeWidth":0.7},
 "encoding":{"y":{"field":"y","type":"quantitative","scale":{"domain":[0,0.375],"nice":false,"zero":false},"axis":{"values":[0,0.1,0.2,0.3],"format":"~g","title":null}},
  "x":{"field":"lo","type":"quantitative","scale":{"domain":[0.5,17.5],"nice":false,"zero":false},"axis":{"values":[1,3,5,7,9,11,13,15,17],"format":"d","title":"Feature Number"}},
  "x2":{"field":"hi"},"detail":{"field":"f","type":"nominal"}}},
{"data":{"name":"st"},"transform":[{"filter":"datum.p==3"}],"mark":{"type":"rule","strokeDash":[1,2],"color":"#666666","strokeWidth":0.8},
 "encoding":{"x":{"field":"f","type":"quantitative"},"y":{"field":"wl","type":"quantitative"},"y2":{"field":"wh"}}},
{"data":{"name":"st"},"transform":[{"filter":"datum.p==3"},{"fold":["Mean","Median"],"as":["stat","val"]}],"mark":{"type":"tick","orient":"horizontal","size":13,"thickness":0.01,"filled":false,"strokeWidth":2.2,"opacity":1},
 "encoding":{"x":{"field":"f","type":"quantitative"},"y":{"field":"val","type":"quantitative"},"color":{"field":"stat","type":"nominal","scale":{"domain":["Mean","Median"],"range":["#000000","#ff0000"]}}}},
{"data":{"name":"st"},"transform":[{"filter":"datum.p==3"}],"mark":{"type":"rule","color":"#3b3bff","strokeWidth":1.2},
 "encoding":{"x":{"field":"f","type":"quantitative"},"y":{"field":"q1","type":"quantitative"},"y2":{"field":"q3"}}},
{"data":{"name":"out"},"transform":[{"filter":"datum.p==3"},{"flatten":["v"]}],"mark":{"type":"point","shape":"M-1,0H1M0,-1V1","size":56,"filled":false,"stroke":"#ff0000","strokeWidth":1,"opacity":0.6},
 "encoding":{"x":{"field":"f","type":"quantitative"},"y":{"field":"v","type":"quantitative"}}}
]},
{"width":328,"height":124,"title":"Phase 1, Case 1","layer":[
{"data":{"name":"vio"},"transform":[{"filter":"datum.p==4"},{"flatten":["y","w"]},{"calculate":"datum.f-datum.w","as":"lo"},{"calculate":"datum.f+datum.w","as":"hi"}],
 "mark":{"type":"area","orient":"horizontal","fill":"#fde3c9","stroke":"#8a8a8a","strokeWidth":0.7},
 "encoding":{"y":{"field":"y","type":"quantitative","scale":{"domain":[0,0.416],"nice":false,"zero":false},"axis":{"values":[0,0.2,0.4],"format":"~g","title":"Relevance"}},
  "x":{"field":"lo","type":"quantitative","scale":{"domain":[0.5,17.5],"nice":false,"zero":false},"axis":{"values":[1,3,5,7,9,11,13,15,17],"format":"d","title":"Feature Number"}},
  "x2":{"field":"hi"},"detail":{"field":"f","type":"nominal"}}},
{"data":{"name":"st"},"transform":[{"filter":"datum.p==4"}],"mark":{"type":"rule","strokeDash":[1,2],"color":"#666666","strokeWidth":0.8},
 "encoding":{"x":{"field":"f","type":"quantitative"},"y":{"field":"wl","type":"quantitative"},"y2":{"field":"wh"}}},
{"data":{"name":"st"},"transform":[{"filter":"datum.p==4"},{"fold":["Mean","Median"],"as":["stat","val"]}],"mark":{"type":"tick","orient":"horizontal","size":13,"thickness":0.01,"filled":false,"strokeWidth":2.2,"opacity":1},
 "encoding":{"x":{"field":"f","type":"quantitative"},"y":{"field":"val","type":"quantitative"},"color":{"field":"stat","type":"nominal","scale":{"domain":["Mean","Median"],"range":["#000000","#ff0000"]}}}},
{"data":{"name":"st"},"transform":[{"filter":"datum.p==4"}],"mark":{"type":"rule","color":"#3b3bff","strokeWidth":1.2},
 "encoding":{"x":{"field":"f","type":"quantitative"},"y":{"field":"q1","type":"quantitative"},"y2":{"field":"q3"}}},
{"data":{"name":"out"},"transform":[{"filter":"datum.p==4"},{"flatten":["v"]}],"mark":{"type":"point","shape":"M-1,0H1M0,-1V1","size":56,"filled":false,"stroke":"#ff0000","strokeWidth":1,"opacity":0.6},
 "encoding":{"x":{"field":"f","type":"quantitative"},"y":{"field":"v","type":"quantitative"}}}
]},
{"width":328,"height":124,"title":"Phase 1, Case 2","layer":[
{"data":{"name":"vio"},"transform":[{"filter":"datum.p==5"},{"flatten":["y","w"]},{"calculate":"datum.f-datum.w","as":"lo"},{"calculate":"datum.f+datum.w","as":"hi"}],
 "mark":{"type":"area","orient":"horizontal","fill":"#fde3c9","stroke":"#8a8a8a","strokeWidth":0.7},
 "encoding":{"y":{"field":"y","type":"quantitative","scale":{"domain":[0,0.415],"nice":false,"zero":false},"axis":{"values":[0,0.2,0.4],"format":"~g","title":null}},
  "x":{"field":"lo","type":"quantitative","scale":{"domain":[0.5,17.5],"nice":false,"zero":false},"axis":{"values":[1,3,5,7,9,11,13,15,17],"format":"d","title":"Feature Number"}},
  "x2":{"field":"hi"},"detail":{"field":"f","type":"nominal"}}},
{"data":{"name":"st"},"transform":[{"filter":"datum.p==5"}],"mark":{"type":"rule","strokeDash":[1,2],"color":"#666666","strokeWidth":0.8},
 "encoding":{"x":{"field":"f","type":"quantitative"},"y":{"field":"wl","type":"quantitative"},"y2":{"field":"wh"}}},
{"data":{"name":"st"},"transform":[{"filter":"datum.p==5"},{"fold":["Mean","Median"],"as":["stat","val"]}],"mark":{"type":"tick","orient":"horizontal","size":13,"thickness":0.01,"filled":false,"strokeWidth":2.2,"opacity":1},
 "encoding":{"x":{"field":"f","type":"quantitative"},"y":{"field":"val","type":"quantitative"},"color":{"field":"stat","type":"nominal","scale":{"domain":["Mean","Median"],"range":["#000000","#ff0000"]}}}},
{"data":{"name":"st"},"transform":[{"filter":"datum.p==5"}],"mark":{"type":"rule","color":"#3b3bff","strokeWidth":1.2},
 "encoding":{"x":{"field":"f","type":"quantitative"},"y":{"field":"q1","type":"quantitative"},"y2":{"field":"q3"}}},
{"data":{"name":"out"},"transform":[{"filter":"datum.p==5"},{"flatten":["v"]}],"mark":{"type":"point","shape":"M-1,0H1M0,-1V1","size":56,"filled":false,"stroke":"#ff0000","strokeWidth":1,"opacity":0.6},
 "encoding":{"x":{"field":"f","type":"quantitative"},"y":{"field":"v","type":"quantitative"}}}
]},
{"width":328,"height":124,"title":"Phase 2","layer":[
{"data":{"name":"vio"},"transform":[{"filter":"datum.p==6"},{"flatten":["y","w"]},{"calculate":"datum.f-datum.w","as":"lo"},{"calculate":"datum.f+datum.w","as":"hi"}],
 "mark":{"type":"area","orient":"horizontal","fill":"#fde3c9","stroke":"#8a8a8a","strokeWidth":0.7},
 "encoding":{"y":{"field":"y","type":"quantitative","scale":{"domain":[0,0.36],"nice":false,"zero":false},"axis":{"values":[0,0.1,0.2,0.3],"format":"~g","title":null}},
  "x":{"field":"lo","type":"quantitative","scale":{"domain":[0.5,17.5],"nice":false,"zero":false},"axis":{"values":[1,3,5,7,9,11,13,15,17],"format":"d","title":"Feature Number"}},
  "x2":{"field":"hi"},"detail":{"field":"f","type":"nominal"}}},
{"data":{"name":"st"},"transform":[{"filter":"datum.p==6"}],"mark":{"type":"rule","strokeDash":[1,2],"color":"#666666","strokeWidth":0.8},
 "encoding":{"x":{"field":"f","type":"quantitative"},"y":{"field":"wl","type":"quantitative"},"y2":{"field":"wh"}}},
{"data":{"name":"st"},"transform":[{"filter":"datum.p==6"},{"fold":["Mean","Median"],"as":["stat","val"]}],"mark":{"type":"tick","orient":"horizontal","size":13,"thickness":0.01,"filled":false,"strokeWidth":2.2,"opacity":1},
 "encoding":{"x":{"field":"f","type":"quantitative"},"y":{"field":"val","type":"quantitative"},"color":{"field":"stat","type":"nominal","scale":{"domain":["Mean","Median"],"range":["#000000","#ff0000"]}}}},
{"data":{"name":"st"},"transform":[{"filter":"datum.p==6"}],"mark":{"type":"rule","color":"#3b3bff","strokeWidth":1.2},
 "encoding":{"x":{"field":"f","type":"quantitative"},"y":{"field":"q1","type":"quantitative"},"y2":{"field":"q3"}}},
{"data":{"name":"out"},"transform":[{"filter":"datum.p==6"},{"flatten":["v"]}],"mark":{"type":"point","shape":"M-1,0H1M0,-1V1","size":56,"filled":false,"stroke":"#ff0000","strokeWidth":1,"opacity":0.6},
 "encoding":{"x":{"field":"f","type":"quantitative"},"y":{"field":"v","type":"quantitative"}}}
]}
],
"columns":3,
"spacing":{"row":68,"column":33},
"bounds":"flush",
"resolve":{"scale":{"x":"independent","y":"independent","color":"independent"},"legend":{"color":"independent"}}
}
